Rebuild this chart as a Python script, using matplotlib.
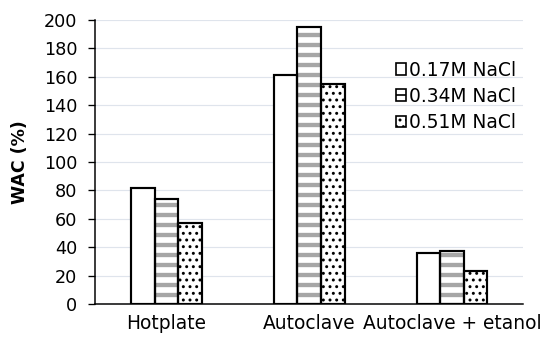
import matplotlib.pyplot as plt
import numpy as np
from matplotlib.patches import Patch

plt.rcParams["font.family"] = ["DejaVu Sans"]

categories = ["Hotplate", "Autoclave", "Autoclave + etanol"]
series = ["0.17M NaCl", "0.34M NaCl", "0.51M NaCl"]
wac_017 = [82, 161, 36]
wac_034 = [74, 195, 37]
wac_051 = [57, 155, 23]
y_ticks = [0, 20, 40, 60, 80, 100, 120, 140, 160, 180, 200]

DPI = 120
fig = plt.figure(figsize=(544 / DPI, 340 / DPI), dpi=DPI)
ax = fig.add_axes([0.1746, 0.1059, 0.7877, 0.8353])

x = np.arange(len(categories))
width = 0.165
styles = [
    dict(hatch=None, hcolor="white", hlw=1.0),
    dict(hatch="--", hcolor="#a6a6a6", hlw=2.6),
    dict(hatch="...", hcolor="black", hlw=1.0),
]

for i, (vals, st) in enumerate(zip([wac_017, wac_034, wac_051], styles)):
    pos = x + (i - 1) * width
    # hatch layer (hatch colour comes from edgecolor)
    with plt.rc_context({"hatch.linewidth": st["hlw"]}):
        ax.bar(pos, vals, width, color="white", edgecolor=st["hcolor"],
               hatch=st["hatch"], linewidth=0, zorder=2)
    # outline layer
    ax.bar(pos, vals, width, color="none", edgecolor="black",
           linewidth=1.3, zorder=3)

ax.set_xlim(-0.5, 2.5)
ax.set_ylim(0, 200)
ax.set_yticks(y_ticks)
ax.set_xticks(x)
ax.set_xticklabels(categories, fontsize=11.2)
ax.tick_params(axis="x", length=0, pad=6)
ax.tick_params(axis="y", length=4.2, width=0.8, labelsize=10.6, pad=6.5)
ax.set_ylabel("WAC (%)", fontsize=10.4, fontweight="bold", labelpad=8.5)

ax.grid(axis="y", color="#dfe4ec", linewidth=0.7, zorder=0)
ax.set_axisbelow(True)
for s in ["top", "right"]:
    ax.spines[s].set_visible(False)
ax.spines["left"].set_linewidth(0.9)
ax.spines["bottom"].set_linewidth(0.9)

handles = []
for st, lab in zip(styles, series):
    handles.append(Patch(facecolor="white", edgecolor="black",
                         hatch=st["hatch"], linewidth=1.0, label=lab))
with plt.rc_context({"hatch.linewidth": 1.0}):
    leg = ax.legend(handles=handles, loc="upper left",
                    bbox_to_anchor=(0.68, 0.89), frameon=False, fontsize=11.2,
                    handlelength=0.55, handleheight=0.55, handletextpad=0.15,
                    labelspacing=0.38, borderpad=0)

fig.savefig("out.png", dpi=DPI)
